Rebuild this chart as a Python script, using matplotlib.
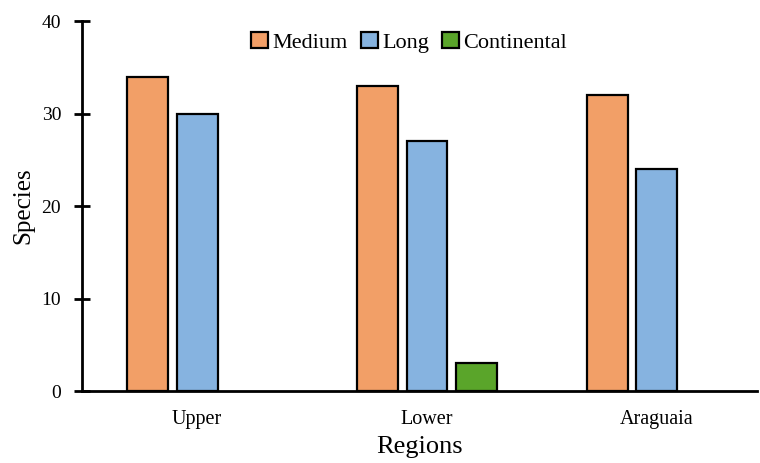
import matplotlib
matplotlib.use("Agg")
import matplotlib.pyplot as plt
from matplotlib.patches import Patch
import numpy as np

regions = ["Upper", "Lower", "Araguaia"]
series_names = ["Medium", "Long", "Continental"]
medium = [34, 33, 32]
long_ = [30, 27, 24]
continental = [0, 3, 0]
yticks = [0, 10, 20, 30, 40]
colors = ["#F29F67", "#86B3E0", "#5AA52A"]

plt.rcParams['font.family'] = ['Liberation Serif', 'DejaVu Serif']

fig = plt.figure(figsize=(7.6, 4.63), dpi=100)
ax = fig.add_axes([0.108, 0.1555, 0.888, 0.799])

x = np.arange(len(regions))
w = 0.178
pitch = 0.217
handles = []
for i, (vals, name, c) in enumerate(zip([medium, long_, continental], series_names, colors)):
    xs = x + (i - 1) * pitch
    bars = ax.bar(xs, vals, width=w, color=c, edgecolor='black', linewidth=1.6)
    for b, v in zip(bars, vals):
        if v == 0:
            b.set_visible(False)
    handles.append(Patch(facecolor=c, edgecolor='black', linewidth=1.6, label=name))

ax.set_xlim(-0.5, 2.435)
ax.set_ylim(0, 40)
ax.set_yticks(yticks)
ax.set_xticks(x)
ax.set_xticklabels(regions, fontsize=14.5)
ax.tick_params(axis='x', length=0, pad=14)
ax.tick_params(axis='y', direction='inout', length=12, width=2, labelsize=14, pad=9)
for s in ['top', 'right']:
    ax.spines[s].set_visible(False)
for s in ['left', 'bottom']:
    ax.spines[s].set_linewidth(2)
ax.set_ylabel("Species", fontsize=18, labelpad=5)
ax.set_xlabel("Regions", fontsize=19, labelpad=5)

leg = ax.legend(handles=handles, loc='center', bbox_to_anchor=(0.485, 0.943), ncol=3, frameon=False,
                fontsize=16, handlelength=0.75, handleheight=0.75, handletextpad=0.2,
                columnspacing=0.6, borderaxespad=0)

fig.savefig("out.png", dpi=100)
